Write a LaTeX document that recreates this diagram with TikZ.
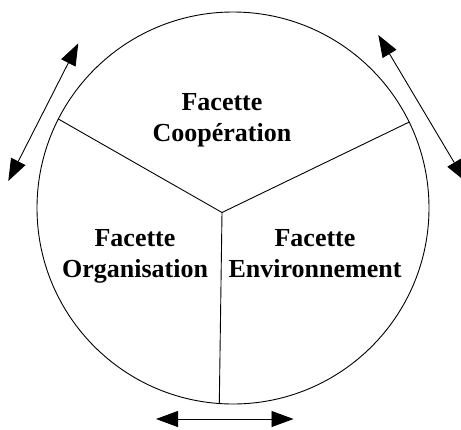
\documentclass[tikz,border=0pt]{standalone}
\usepackage{fontspec}
\setmainfont{Liberation Serif}
\usetikzlibrary{arrows.meta}
\begin{document}
\begin{tikzpicture}[x=1pt,y=-1pt,
  rim/.style={draw,circle,line width=0.9pt,minimum size=392pt,inner sep=0pt},
  spoke/.style={line width=0.9pt},
  dblarrow/.style={line width=0.9pt,{Triangle[length=22pt,width=16pt]}-{Triangle[length=22pt,width=16pt]}},
  facet/.style={font=\bfseries\fontsize{26}{31.7}\selectfont,align=center,inner sep=0pt,anchor=north}]
\useasboundingbox (0,0) rectangle (461,429);
\node[rim] (c) at (233,208) {};
\coordinate (j) at (222,212.5);
\draw[spoke] (j) -- (c.153.5);
\draw[spoke] (j) -- (c.26.4);
\draw[spoke] (j) -- (c.266.8);
\node[facet] (coop) at (222,93) {Facette\\Coopération};
\node[facet] (orga) at (135,229) {Facette\\Organisation};
\node[facet] (envi) at (315,229) {Facette\\Environnement};
\coordinate (a1) at (78.3,43.3);
\coordinate (a2) at (8.3,181);
\coordinate (b1) at (378.3,35);
\coordinate (b2) at (465.5,181.5);
\coordinate (d1) at (156,419);
\coordinate (d2) at (293.5,419);
\draw[dblarrow] (a1) -- (a2);
\draw[dblarrow] (b1) -- (b2);
\draw[dblarrow] (d1) -- (d2);
\end{tikzpicture}
\end{document}
